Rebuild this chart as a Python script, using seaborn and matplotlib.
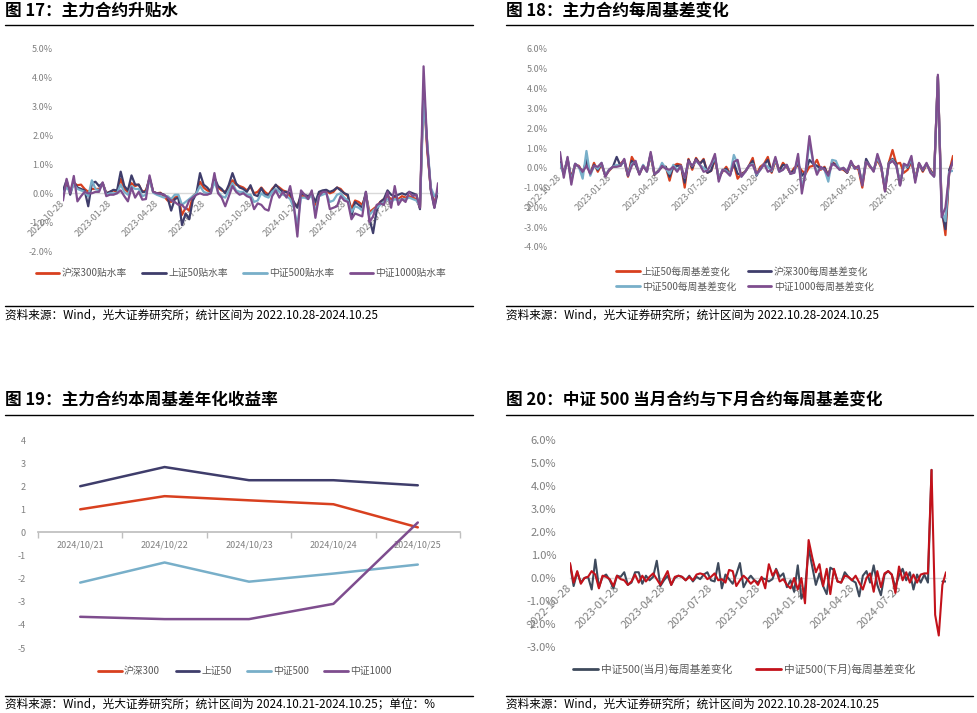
import numpy as np
import pandas as pd
import matplotlib
matplotlib.use("Agg")
import matplotlib.pyplot as plt
from matplotlib.lines import Line2D
from matplotlib.ticker import FuncFormatter
import seaborn as sns

# ---------------- data ----------------
dates = pd.date_range("2022-10-28", periods=105, freq="7D")
tick_dates = pd.to_datetime(["2022-10-28", "2023-01-28", "2023-04-28", "2023-07-28",
                             "2023-10-28", "2024-01-28", "2024-04-28", "2024-07-28"])

# 图17 主力合约升贴水 (%)
hs300_prem = [0.05, 0.25, 0.10, 0.35, 0.28, 0.30, 0.15, 0.05, 0.15, 0.15,
              0.15, 0.35, 0.00, 0.05, 0.10, 0.05, 0.50, 0.15, 0.05, 0.35,
              0.25, 0.30, 0.05, 0.10, 0.50, 0.05, 0.00, 0.02, -0.10, -0.25,
              -0.30, -0.15, -0.10, -0.75, -0.50, -0.60, -0.10, 0.00, 0.40, 0.20,
              0.10, 0.05, 0.45, 0.20, 0.10, 0.05, 0.20, 0.45, 0.30, 0.25,
              0.20, 0.10, 0.22, 0.00, 0.05, 0.20, 0.05, -0.05, 0.15, 0.28,
              0.20, 0.10, 0.05, -0.10, -0.35, -0.45, -0.10, -0.10, -0.15, -0.05,
              -0.40, -0.05, 0.05, 0.10, 0.00, 0.05, 0.20, 0.15, 0.00, -0.10,
              -0.55, -0.25, -0.30, -0.40, -0.05, -0.65, -0.55, -0.45, -0.30, -0.20,
              -0.10, -0.20, -0.15, -0.20, -0.10, -0.15, -0.10, -0.15, -0.20, -0.50,
              3.60, 1.50, 0.15, -0.35, 0.05]
sz50_prem = [0.10, 0.45, -0.05, 0.40, 0.20, 0.15, 0.10, -0.45, 0.35, 0.40,
             0.25, 0.35, 0.00, 0.05, 0.12, 0.10, 0.75, 0.25, 0.10, 0.62,
             0.30, 0.30, 0.05, 0.05, 0.55, 0.05, 0.00, 0.00, -0.05, -0.15,
             -0.60, -0.20, -0.15, -1.10, -0.70, -0.90, -0.25, 0.00, 0.70, 0.30,
             0.20, 0.05, 0.55, 0.25, 0.15, 0.00, 0.30, 0.70, 0.35, 0.20,
             0.15, 0.05, 0.28, -0.05, -0.10, 0.18, -0.05, -0.05, 0.10, 0.30,
             0.15, 0.05, 0.05, 0.00, -0.30, -0.50, 0.00, -0.05, -0.10, 0.00,
             -0.30, 0.05, 0.10, 0.12, 0.05, 0.10, 0.20, 0.10, 0.00, -0.05,
             -0.80, -0.30, -0.40, -0.50, 0.05, -0.90, -1.38, -0.60, -0.30, -0.20,
             0.10, -0.05, -0.10, -0.05, 0.00, -0.05, 0.05, 0.00, -0.05, -0.55,
             3.75, 1.70, 0.10, -0.50, 0.10]
zz500_prem = [0.00, 0.20, 0.05, 0.30, 0.15, 0.10, 0.05, -0.10, 0.45, 0.15,
              0.10, 0.35, -0.05, 0.00, 0.00, 0.00, 0.30, 0.05, -0.05, 0.25,
              0.15, 0.15, -0.10, -0.05, 0.50, 0.02, -0.05, -0.10, -0.15, -0.10,
              -0.20, -0.05, -0.05, -0.40, -0.30, -0.20, -0.10, 0.00, 0.25, 0.05,
              0.00, 0.00, 0.40, 0.05, -0.10, -0.15, 0.10, 0.35, 0.10, 0.05,
              0.05, -0.05, -0.05, -0.30, -0.25, 0.00, -0.10, -0.15, 0.05, 0.15,
              0.05, -0.05, -0.10, -0.20, -0.50, -1.10, -0.15, -0.15, -0.20, -0.05,
              -0.65, -0.10, -0.05, 0.00, -0.30, -0.25, -0.05, 0.00, -0.15, -0.25,
              -0.65, -0.45, -0.50, -0.60, -0.05, -0.75, -0.60, -0.50, -0.40, -0.30,
              -0.20, -0.30, -0.20, -0.25, -0.20, -0.20, -0.15, -0.20, -0.25, -0.45,
              3.20, 1.80, 0.20, -0.10, 0.00]
zz1000_prem = [-0.25, 0.50, 0.00, 0.60, -0.28, -0.10, 0.05, 0.00, 0.00, 0.05,
               0.05, 0.38, -0.10, -0.05, -0.05, 0.00, 0.10, -0.10, -0.28, 0.20,
               -0.15, 0.05, -0.22, -0.20, 0.62, 0.05, 0.00, -0.02, -0.05, -0.15,
               -0.25, -0.30, -0.40, -0.40, -0.55, -0.25, -0.15, -0.05, 0.00, -0.05,
               -0.05, 0.00, 0.70, 0.00, -0.15, -0.45, -0.10, 0.25, 0.05, -0.05,
               0.00, -0.10, -0.15, -0.55, -0.35, -0.40, -0.55, -0.60, -0.10, 0.10,
               -0.15, 0.05, -0.15, 0.25, -0.40, -1.50, 0.10, -0.05, -0.20, 0.10,
               -0.85, -0.10, 0.05, 0.05, -0.55, -0.50, -0.45, -0.10, -0.25, -0.30,
               -0.90, -0.70, -0.75, -0.80, 0.05, -1.00, -0.80, -0.40, -0.35, -0.40,
               0.05, -0.50, 0.25, -0.40, -0.20, -0.30, 0.05, -0.10, -0.05, -0.50,
               4.40, 1.65, 0.15, -0.50, 0.35]

# 图18 主力合约每周基差变化 (%)
sz50_chg = [0.10, -0.20, 0.40, -0.50, 0.15, 0.10, -0.25, 0.30, -0.30, 0.25,
            -0.20, 0.20, -0.40, -0.15, 0.05, 0.10, 0.20, 0.40, -0.45, 0.55,
            0.20, -0.30, 0.10, -0.15, 0.60, -0.35, -0.15, 0.05, 0.05, -0.65,
            0.10, 0.20, 0.15, -1.00, 0.45, -0.10, 0.50, 0.20, 0.45, -0.25,
            -0.15, 0.40, -0.45, -0.20, 0.05, -0.30, 0.20, -0.55, -0.30, -0.20,
            0.10, 0.50, -0.35, 0.05, 0.20, 0.55, -0.25, 0.35, -0.15, 0.25,
            0.05, -0.30, 0.00, 0.10, -0.15, -0.30, 0.05, 0.10, 0.40, -0.10,
            0.05, -0.40, 0.30, 0.15, -0.05, -0.10, -0.25, 0.20, 0.05, -0.10,
            -1.00, 0.35, 0.05, -0.10, 0.40, 0.00, -1.15, 0.25, 0.90, 0.20,
            0.25, -0.25, -0.10, 0.30, -0.50, 0.20, -0.20, 0.15, -0.10, -0.40,
            4.60, -2.00, -3.40, -0.20, 0.60]
hs300_chg = [0.30, -0.30, 0.45, -0.60, 0.20, 0.05, -0.25, 0.40, -0.30, 0.15,
             -0.10, 0.20, -0.40, -0.10, 0.05, 0.55, 0.10, 0.35, -0.40, 0.35,
             0.15, -0.30, 0.10, -0.15, 0.70, -0.35, -0.15, 0.05, 0.05, -0.45,
             0.05, 0.10, 0.10, -0.75, 0.40, 0.00, 0.45, 0.20, 0.40, -0.25,
             -0.15, 0.55, -0.55, -0.15, -0.05, -0.35, 0.25, -0.30, -0.35, -0.20,
             0.10, 0.35, -0.40, -0.05, 0.15, 0.40, -0.20, 0.45, -0.15, 0.15,
             0.10, -0.30, -0.10, 0.25, -0.40, -0.20, 0.40, 0.20, 0.10, -0.05,
             0.00, -0.40, 0.25, 0.15, -0.05, -0.05, -0.25, 0.25, 0.00, 0.00,
             -0.80, 0.45, 0.10, -0.15, 0.55, 0.05, -1.05, 0.25, 0.45, 0.20,
             -0.85, 0.20, 0.00, 0.40, -0.60, 0.20, -0.15, 0.20, -0.15, -0.40,
             4.60, -2.20, -3.10, -0.10, 0.30]
zz500_chg = [0.20, -0.35, 0.50, -0.70, 0.20, 0.05, -0.55, 0.85, -0.40, 0.10,
             -0.05, 0.25, -0.40, -0.10, 0.05, 0.15, 0.10, 0.40, -0.35, 0.20,
             0.30, -0.30, 0.15, -0.20, 0.70, -0.30, -0.20, 0.25, -0.05, -0.30,
             0.15, -0.10, 0.10, -0.50, 0.30, 0.10, 0.35, 0.15, 0.00, -0.15,
             0.15, 0.55, -0.55, -0.10, -0.15, -0.35, 0.65, 0.20, -0.45, -0.20,
             0.10, 0.20, -0.35, -0.10, 0.20, 0.05, -0.15, 0.45, -0.20, -0.10,
             0.15, -0.30, -0.25, 0.55, -1.00, -0.25, 1.30, 0.30, -0.20, 0.00,
             -0.10, -0.70, 0.40, 0.35, -0.10, 0.00, -0.20, 0.30, -0.05, 0.05,
             -0.80, 0.30, 0.10, -0.15, 0.55, 0.05, -1.05, 0.20, 0.40, 0.10,
             -0.80, 0.15, 0.05, 0.45, -0.60, 0.20, -0.10, 0.20, -0.20, -0.45,
             4.60, -2.10, -2.70, -0.20, -0.15]
zz1000_chg = [0.80, -0.50, 0.55, -0.85, 0.20, 0.05, -0.20, 0.10, -0.30, 0.10,
              0.05, 0.25, -0.45, -0.10, 0.05, 0.05, 0.10, 0.45, -0.40, 0.10,
              0.35, -0.35, 0.10, -0.20, 0.80, -0.30, -0.20, 0.10, -0.05, -0.10,
              0.05, -0.20, 0.10, -0.50, 0.35, 0.10, 0.40, 0.15, -0.20, -0.15,
              0.20, 0.70, -0.70, -0.10, -0.20, -0.40, 0.30, 0.40, -0.45, -0.20,
              0.10, 0.15, -0.30, -0.10, 0.20, -0.20, -0.10, 0.55, -0.20, -0.10,
              0.15, -0.30, -0.25, 0.70, -1.30, -0.20, 1.60, 0.30, -0.35, 0.05,
              -0.10, -0.40, 0.20, 0.10, -0.10, 0.00, -0.20, 0.35, -0.05, 0.10,
              -0.90, 0.30, 0.10, -0.20, 0.70, 0.10, -1.20, 0.20, 0.35, 0.10,
              -0.90, 0.20, 0.10, 0.60, -0.75, 0.25, -0.10, 0.25, -0.25, -0.45,
              4.70, -2.50, -2.00, -0.30, 0.35]

# 图19 主力合约本周基差年化收益率 (%)
days = ["2024/10/21", "2024/10/22", "2024/10/23", "2024/10/24", "2024/10/25"]
hs300_ann = [1.00, 1.57, 1.39, 1.22, 0.22]
sz50_ann = [2.00, 2.83, 2.26, 2.26, 2.04]
zz500_ann = [-2.17, -1.30, -2.13, -1.78, -1.39]
zz1000_ann = [-3.65, -3.75, -3.75, -3.09, 0.43]

# 图20 中证500当月/下月合约每周基差变化 (%)
zz500_cur = [0.60, -0.35, 0.25, -0.20, 0.00, 0.05, -0.50, 0.80, -0.40, 0.05,
             0.15, -0.10, -0.45, 0.10, 0.05, 0.25, -0.30, -0.20, 0.25, 0.25,
             -0.25, 0.10, -0.10, 0.05, 0.75, -0.35, -0.10, 0.10, -0.30, 0.00,
             0.10, 0.05, -0.10, 0.10, -0.15, 0.05, -0.05, 0.15, 0.25, -0.10,
             -0.15, 0.65, -0.45, 0.15, -0.05, -0.25, 0.15, 0.65, -0.40, -0.10,
             0.10, -0.10, -0.20, 0.00, -0.05, -0.15, -0.05, 0.40, 0.05, 0.20,
             -0.40, -0.10, -0.60, 0.55, -0.90, -0.50, 1.30, 0.50, -0.30, 0.20,
             -0.35, -0.70, 0.45, 0.35, -0.15, -0.20, 0.25, 0.05, -0.10, -0.20,
             -0.80, 0.10, 0.30, -0.20, 0.55, -0.30, -0.75, 0.15, 0.30, 0.15,
             -0.40, 0.10, 0.40, -0.10, 0.25, -0.50, 0.15, -0.20, 0.15, -0.20,
             4.70, np.nan, np.nan, -0.15, -0.15]
zz500_next = [0.65, -0.20, 0.30, -0.25, 0.00, 0.05, 0.30, 0.15, -0.45, 0.10,
              0.05, -0.05, -0.35, 0.10, -0.05, -0.10, -0.30, -0.15, 0.15, -0.20,
              0.10, -0.15, 0.05, 0.20, -0.05, -0.30, 0.00, 0.30, -0.30, 0.05,
              0.10, 0.05, -0.10, 0.05, -0.10, 0.15, 0.20, 0.15, -0.05, 0.05,
              0.20, -0.10, -0.05, -0.20, 0.35, 0.30, -0.35, -0.10, 0.10, -0.05,
              -0.25, -0.10, -0.30, 0.05, -0.45, 0.60, 0.10, 0.35, -0.15, -0.05,
              -0.30, -0.45, 0.00, -0.50, 0.00, -1.10, 1.65, 0.90, 0.25, 0.60,
              -0.35, 0.40, -0.70, 0.40, -0.15, -0.20, 0.10, 0.05, -0.10, 0.10,
              -0.20, -0.50, 0.00, 0.20, -0.60, 0.30, -0.40, 0.20, 0.30, 0.15,
              -0.65, 0.50, -0.10, 0.25, -0.20, 0.15, -0.20, 0.15, 0.20, 0.20,
              4.70, -1.60, -2.50, -0.30, 0.25]

# ---------------- style ----------------
sns.set_theme(style="white")
plt.rcParams['font.family'] = ['Noto Sans CJK SC', 'DejaVu Sans']
plt.rcParams['axes.unicode_minus'] = False

C_RED = "#d8401f"
C_NAVY = "#3f3d6b"
C_LBLUE = "#78afc9"
C_PURPLE = "#7e4d8e"
C_DARK = "#3e4a5c"
C_RED2 = "#c3121b"
TICK_C = "#7f7f7f"
LEG_C = "#595959"

W, H = 977, 713
fig = plt.figure(figsize=(W / 100, H / 100), dpi=100)


def add_ax(x0, y0, x1, y1):
    return fig.add_axes([x0 / W, 1 - y1 / H, (x1 - x0) / W, (y1 - y0) / H])


def header(x0, x1, y_title, y_line, title):
    fig.text(x0 / W, 1 - y_title / H, title, fontsize=12, fontweight="bold",
             ha="left", va="center", color="black")
    fig.add_artist(Line2D([x0 / W, x1 / W], [1 - y_line / H] * 2, color="black", lw=1))


def footer(x0, x1, y_line, y_text, text):
    fig.add_artist(Line2D([x0 / W, x1 / W], [1 - y_line / H] * 2, color="black", lw=1))
    fig.text(x0 / W, 1 - y_text / H, text, fontsize=8.4, ha="left", va="center", color="black")


def legend(handles, labels, cx, cy, ncol, fs, colsp):
    fig.legend(handles, labels, loc="center", bbox_to_anchor=(cx / W, 1 - cy / H),
               ncol=ncol, frameon=False, fontsize=fs, handlelength=2.4,
               handletextpad=0.25, columnspacing=colsp, labelcolor=LEG_C,
               borderaxespad=0, borderpad=0, labelspacing=0.5)


def time_axes(ax, ylo, yhi, fs, ypad):
    ax.set_xlim(dates[0], dates[-1])
    ax.set_ylim(ylo, yhi)
    for s in ["top", "right", "left"]:
        ax.spines[s].set_visible(False)
    ax.spines["bottom"].set_position(("data", 0))
    ax.spines["bottom"].set_color("#d9d9d9")
    ax.spines["bottom"].set_linewidth(1)
    ax.spines["bottom"].set_zorder(0.5)
    ax.set_yticks(np.arange(ylo, yhi + 0.5, 1))
    ax.yaxis.set_major_formatter(FuncFormatter(lambda v, p: f"{v:.1f}%"))
    ax.set_xticks(tick_dates)
    ax.set_xticklabels([d.strftime("%Y-%m-%d") for d in tick_dates])
    ax.tick_params(axis="y", length=0, labelsize=fs, labelcolor=TICK_C, pad=ypad)
    ax.tick_params(axis="x", length=0, labelsize=fs, labelcolor=TICK_C, pad=6)
    for lab in ax.get_xticklabels():
        lab.set_rotation(45)
        lab.set_ha("right")
        lab.set_va("center")
        lab.set_rotation_mode("anchor")
    ax.set_xlabel("")
    ax.set_ylabel("")
    ax.patch.set_alpha(0)


# ---------------- 图17 ----------------
header(5, 473, 11, 25, "图 17：主力合约升贴水")
ax1 = add_ax(63, 49, 438, 251)
s1 = [("沪深300贴水率", hs300_prem, C_RED), ("上证50贴水率", sz50_prem, C_NAVY),
      ("中证500贴水率", zz500_prem, C_LBLUE), ("中证1000贴水率", zz1000_prem, C_PURPLE)]
for name, vals, col in s1:
    sns.lineplot(x=dates, y=vals, ax=ax1, color=col, lw=1.6)
time_axes(ax1, -2, 5, 6.5, 7)
legend([Line2D([], [], color=c, lw=2) for _, _, c in s1], [n for n, _, _ in s1],
       241, 273, 4, 7, 1.6)
footer(5, 473, 306, 315, "资料来源：Wind，光大证券研究所；统计区间为 2022.10.28-2024.10.25")

# ---------------- 图18 ----------------
header(506, 973, 11, 25, "图 18：主力合约每周基差变化")
ax2 = add_ax(560, 49, 953, 247)
s2 = [("上证50每周基差变化", sz50_chg, C_RED), ("沪深300每周基差变化", hs300_chg, C_NAVY),
      ("中证500每周基差变化", zz500_chg, C_LBLUE), ("中证1000每周基差变化", zz1000_chg, C_PURPLE)]
for name, vals, col in s2:
    sns.lineplot(x=dates, y=vals, ax=ax2, color=col, lw=1.6)
time_axes(ax2, -4, 6, 6.5, 9)
order = [0, 2, 1, 3]
legend([Line2D([], [], color=s2[k][2], lw=2) for k in order], [s2[k][0] for k in order],
       745, 279, 2, 7, 1.2)
footer(506, 973, 306, 315, "资料来源：Wind，光大证券研究所；统计区间为 2022.10.28-2024.10.25")

# ---------------- 图19 ----------------
header(5, 473, 400, 415, "图 19：主力合约本周基差年化收益率")
ax3 = add_ax(38, 440, 460, 648)
s3 = [("沪深300", hs300_ann, C_RED), ("上证50", sz50_ann, C_NAVY),
      ("中证500", zz500_ann, C_LBLUE), ("中证1000", zz1000_ann, C_PURPLE)]
xpos = np.arange(len(days))
for name, vals, col in s3:
    sns.lineplot(x=xpos, y=vals, ax=ax3, color=col, lw=1.8)
ax3.set_xlim(-0.5, len(days) - 0.5)
ax3.set_ylim(-5, 4)
for s in ["top", "right", "left"]:
    ax3.spines[s].set_visible(False)
ax3.spines["bottom"].set_position(("data", 0))
ax3.spines["bottom"].set_color("#bfbfbf")
ax3.spines["bottom"].set_zorder(0.5)
ax3.set_xticks(xpos)
ax3.set_xticklabels(days)
ax3.set_xticks(np.arange(-0.5, len(days)), minor=True)
ax3.tick_params(axis="x", which="major", length=0, labelsize=6.5, labelcolor=TICK_C, pad=6)
ax3.tick_params(axis="x", which="minor", length=4, color="#bfbfbf", direction="out", bottom=True)
ax3.set_yticks(np.arange(-5, 5))
ax3.tick_params(axis="y", length=0, labelsize=6.5, labelcolor=TICK_C, pad=9)
ax3.set_xlabel("")
ax3.set_ylabel("")
ax3.patch.set_alpha(0)
legend([Line2D([], [], color=c, lw=2) for _, _, c in s3], [n for n, _, _ in s3],
       245, 671, 4, 7, 1.6)
footer(5, 473, 696, 704, "资料来源：Wind，光大证券研究所；统计区间为 2024.10.21-2024.10.25；单位：%")

# ---------------- 图20 ----------------
header(506, 973, 400, 415, "图 20：中证 500 当月合约与下月合约每周基差变化")
ax4 = add_ax(570, 440, 946, 647)
ax4.plot(dates, zz500_cur, color=C_DARK, lw=1.5)
sns.lineplot(x=dates, y=zz500_next, ax=ax4, color=C_RED2, lw=1.5)
time_axes(ax4, -3, 6, 8, 10)
for lab in ax4.get_xticklabels():
    lab.set_fontsize(8)
legend([Line2D([], [], color=C_DARK, lw=2), Line2D([], [], color=C_RED2, lw=2)],
       ["中证500(当月)每周基差变化", "中证500(下月)每周基差变化"],
       744, 669, 2, 7.7, 2.2)
footer(506, 973, 696, 704, "资料来源：Wind，光大证券研究所；统计区间为 2022.10.28-2024.10.25")

fig.savefig("out.png", dpi=100)
